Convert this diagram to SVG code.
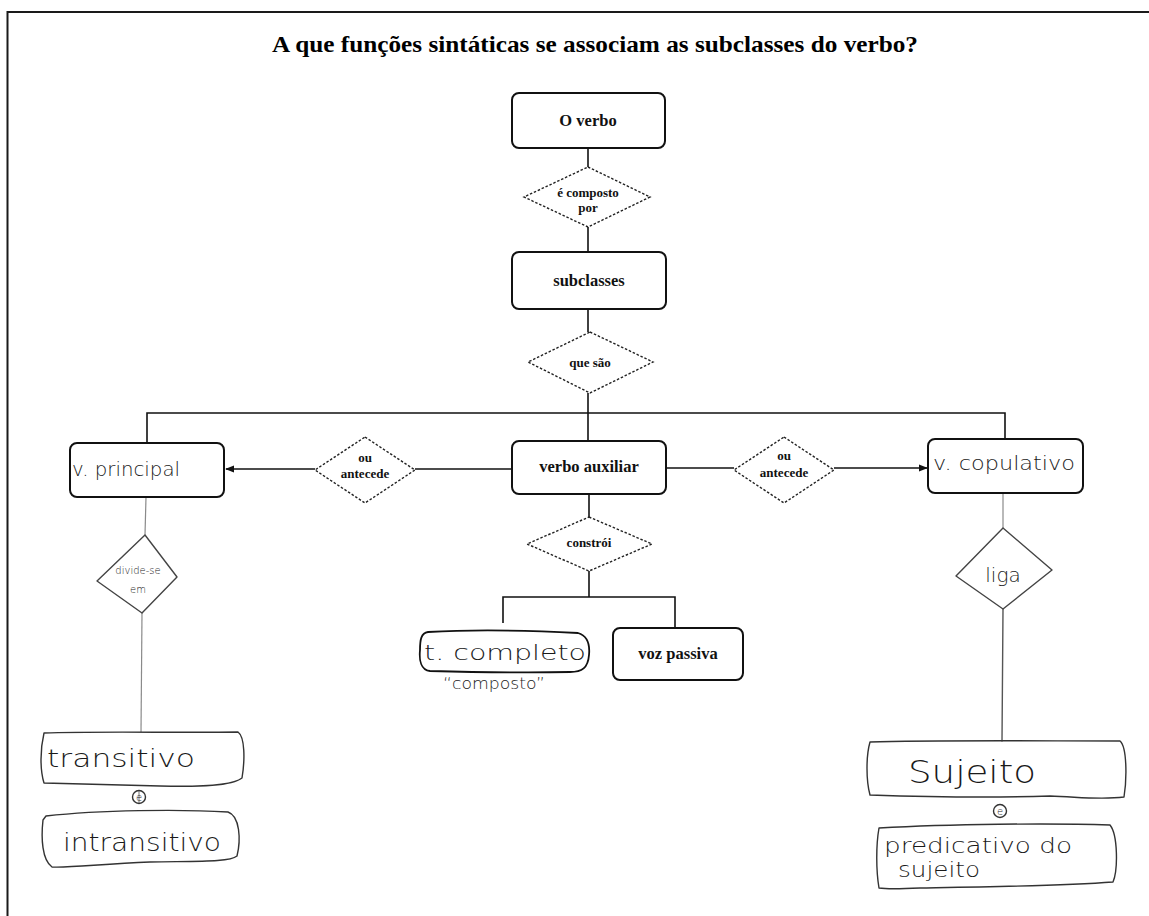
<svg xmlns="http://www.w3.org/2000/svg" width="1149" height="916" viewBox="0 0 1149 916">
  <defs>
    <marker id="arrow" viewBox="0 0 10 10" refX="9" refY="5" markerWidth="9" markerHeight="9" markerUnits="userSpaceOnUse" orient="auto">
      <path d="M0,1 L10,5 L0,9 Z" fill="#111"/>
    </marker>
    <style>
      .frame { fill: none; stroke: #1a1a1a; stroke-width: 2; }
      .box { fill: #fff; stroke: #111; stroke-width: 2; }
      .dia { fill: #fff; stroke: #222; stroke-width: 1.4; stroke-dasharray: 2.5 1.8; }
      .line { fill: none; stroke: #111; stroke-width: 1.6; }
      .pen { fill: none; stroke: #333; stroke-width: 1.4; stroke-linejoin: round; stroke-linecap: round; }
      .pencil { fill: none; stroke: #8a8a8a; stroke-width: 1.2; }
      .title { font-family: "Liberation Serif", serif; font-weight: bold; font-size: 24px; fill: #000; }
      .lbl { font-family: "Liberation Serif", serif; font-weight: bold; font-size: 16.5px; fill: #111; text-anchor: middle; }
      .sm { font-family: "Liberation Serif", serif; font-weight: bold; font-size: 13px; fill: #111; text-anchor: middle; }
      .hand { font-family: "DejaVu Sans", sans-serif; font-weight: 200; fill: #1a1a1a; }
    </style>
  </defs>

  <rect width="1149" height="916" fill="#fff"/>
  <!-- page frame -->
  <path class="frame" d="M7.5,916 V12 H1149"/>

  <text class="title" x="272" y="52" textLength="646" lengthAdjust="spacingAndGlyphs">A que funções sintáticas se associam as subclasses do verbo?</text>

  <!-- connectors -->
  <g id="connectors">
    <line class="line" x1="588" y1="148" x2="588" y2="167"/>
    <line class="line" x1="588" y1="227" x2="588" y2="252"/>
    <line class="line" x1="588" y1="309" x2="588" y2="332"/>
    <line class="line" x1="588" y1="393" x2="588" y2="441"/>
    <polyline class="line" points="147,443 147,413 1005,413 1005,439"/>
    <line class="line" x1="415" y1="469" x2="512" y2="469"/>
    <line class="line" x1="315" y1="469" x2="226" y2="469" marker-end="url(#arrow)"/>
    <line class="line" x1="666" y1="468" x2="734" y2="468"/>
    <line class="line" x1="834" y1="468" x2="927" y2="468" marker-end="url(#arrow)"/>
    <line class="line" x1="589" y1="494" x2="589" y2="517"/>
    <polyline class="line" points="589,571 589,597"/>
    <polyline class="line" points="503,623 503,597 675,597 675,628"/>
    <!-- pencil links -->
    <path class="pencil" d="M146,497 L145,535"/>
    <path class="pencil" d="M142,613 L141,732"/>
    <path class="pencil" d="M139,791 V803"/>
    <path class="pencil" d="M1003,493 L1003,528"/>
    <path class="pen" d="M1003,609 L1002,741" style="stroke:#555"/>
  </g>

  <g id="node-verbo">
    <rect class="box" x="512" y="93" width="153" height="55" rx="7"/>
    <text class="lbl" x="588" y="126">O verbo</text>
  </g>

  <g id="rel-composto">
    <polygon class="dia" points="588,167 650,197 588,227 524,197"/>
    <text class="sm" x="588" y="197">é composto</text>
    <text class="sm" x="588" y="212">por</text>
  </g>

  <g id="node-subclasses">
    <rect class="box" x="512" y="252" width="154" height="57" rx="7"/>
    <text class="lbl" x="589" y="286">subclasses</text>
  </g>

  <g id="rel-quesao">
    <polygon class="dia" points="590,332 653,362 590,393 528,362"/>
    <text class="sm" x="590" y="367">que são</text>
  </g>

  <g id="node-principal">
    <rect class="box" x="70" y="443" width="154" height="54" rx="7"/>
    <text class="hand" x="72" y="476" font-size="20" textLength="108" lengthAdjust="spacingAndGlyphs">v. principal</text>
  </g>

  <g id="rel-antecede-left">
    <polygon class="dia" points="365,437 415,470 365,503 315,470"/>
    <text class="sm" x="365" y="462">ou</text>
    <text class="sm" x="365" y="478">antecede</text>
  </g>

  <g id="node-auxiliar">
    <rect class="box" x="512" y="441" width="154" height="53" rx="7"/>
    <text class="lbl" x="589" y="472">verbo auxiliar</text>
  </g>

  <g id="rel-antecede-right">
    <polygon class="dia" points="784,437 834,470 784,503 734,470"/>
    <text class="sm" x="784" y="460">ou</text>
    <text class="sm" x="784" y="477">antecede</text>
  </g>

  <g id="node-copulativo">
    <rect class="box" x="928" y="439" width="155" height="54" rx="7"/>
    <text class="hand" x="933" y="470" font-size="20" textLength="142" lengthAdjust="spacingAndGlyphs">v. copulativo</text>
  </g>

  <g id="rel-constroi">
    <polygon class="dia" points="589,517 652,544 589,571 527,544"/>
    <text class="sm" x="589" y="547">constrói</text>
  </g>

  <g id="node-tempo">
    <path class="pen" style="stroke:#111;stroke-width:1.8" d="M428,632 C480,629 540,631 578,633 C588,636 590,645 589,655 C588,668 582,672 570,672 C520,673 470,672 430,671 C421,670 419,660 420,650 C420,640 421,633 428,632 Z"/>
    <text class="hand" x="424" y="660" font-size="22" fill="#0d1530" textLength="162" lengthAdjust="spacingAndGlyphs">t. completo</text>
    <text class="hand" x="443" y="689" font-size="15" textLength="102" lengthAdjust="spacingAndGlyphs">“composto”</text>
  </g>

  <g id="node-passiva">
    <rect class="box" x="613" y="628" width="130" height="52" rx="7"/>
    <text class="lbl" x="678" y="659">voz passiva</text>
  </g>

  <g id="rel-divide">
    <polygon class="pen" style="stroke:#444" points="145,535 177,577 142,613 97,581"/>
    <text class="hand" x="138" y="574" font-size="10" fill="#888" text-anchor="middle">divide-se</text>
    <text class="hand" x="138" y="593" font-size="10" fill="#888" text-anchor="middle">em</text>
  </g>

  <g id="node-transitivo">
    <path class="pen" d="M44,733 C100,731 180,733 238,732 C245,737 245,760 242,778 C232,786 200,787 160,786 C110,785 70,784 44,783 C40,770 40,750 44,733 Z"/>
    <text class="hand" x="47" y="767" font-size="25" fill="#444" textLength="148" lengthAdjust="spacingAndGlyphs">transitivo</text>
  </g>

  <g id="and-left">
    <circle class="pen" cx="139" cy="797" r="6.5"/>
    <text class="hand" x="139" y="800.5" font-size="10" text-anchor="middle">e</text>
  </g>

  <g id="node-intransitivo">
    <path class="pen" d="M46,816 C100,810 180,809 228,812 C240,816 241,840 237,856 C230,862 200,861 150,862 C100,864 70,868 52,867 C42,860 41,838 43,820 Z"/>
    <text class="hand" x="63" y="851" font-size="25" fill="#555" textLength="158" lengthAdjust="spacingAndGlyphs">intransitivo</text>
  </g>

  <g id="rel-liga">
    <polygon class="pen" style="stroke:#444" points="1003,528 1052,570 1003,609 956,576"/>
    <text class="hand" x="1003" y="582" font-size="20" text-anchor="middle">liga</text>
  </g>

  <g id="node-sujeito">
    <path class="pen" d="M870,742 C930,740 1040,741 1120,741 C1127,747 1127,778 1124,797 C1100,800 1080,797 1050,796 C990,798 930,797 870,795 C866,780 866,756 870,742 Z"/>
    <text class="hand" x="908" y="783" font-size="32" textLength="128" lengthAdjust="spacingAndGlyphs">Sujeito</text>
  </g>

  <g id="and-right">
    <circle class="pen" cx="1000" cy="811" r="6.5"/>
    <text class="hand" x="1000" y="814.5" font-size="10" text-anchor="middle">e</text>
  </g>

  <g id="node-predicativo">
    <path class="pen" d="M879,828 C950,824 1050,823 1110,825 C1118,835 1118,870 1113,882 C1060,886 980,887 920,888 C900,889 885,889 879,888 C876,870 876,845 879,828 Z"/>
    <text class="hand" x="884" y="853" font-size="21" textLength="188" lengthAdjust="spacingAndGlyphs">predicativo do</text>
    <text class="hand" x="898" y="877" font-size="21" textLength="82" lengthAdjust="spacingAndGlyphs">sujeito</text>
  </g>
</svg>
